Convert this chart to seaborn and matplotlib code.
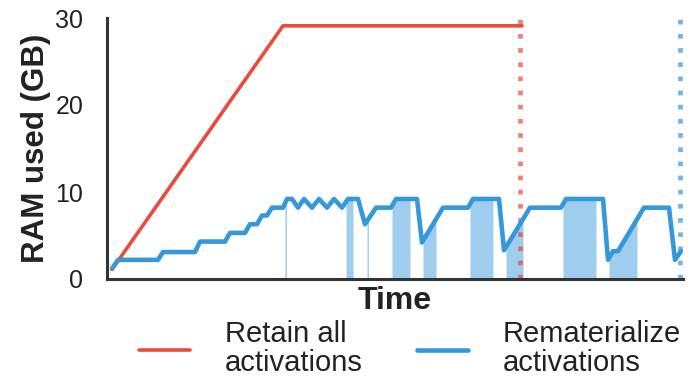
import numpy as np
import matplotlib
matplotlib.use("Agg")
import matplotlib.pyplot as plt
import seaborn as sns
import pandas as pd

# ---- data (time in arbitrary steps, RAM in GB) ----
retain_t = [5, 176, 415]
retain_ram = [1.1, 29.1, 29.1]

remat_t = [5, 11, 51, 56, 88, 93, 118, 123, 138, 143, 150, 155, 160, 165, 176, 180,
           185, 191, 197, 205, 212, 220, 227, 235, 241, 251, 258, 269, 284, 289, 310,
           315, 336, 361, 366, 392, 397, 423, 454, 459, 496, 501, 506, 511, 537, 562,
           568, 574]
remat_ram = [1.2, 2.2, 2.2, 3.1, 3.1, 4.3, 4.3, 5.3, 5.3, 6.3, 6.3, 7.3, 7.3, 8.2, 8.2, 9.2,
             9.2, 8.2, 9.2, 8.2, 9.2, 8.2, 9.2, 8.2, 9.2, 9.2, 6.3, 8.2, 8.2, 9.2, 9.2,
             4.2, 8.2, 8.2, 9.2, 9.2, 3.3, 8.2, 8.2, 9.2, 9.2, 2.2, 3.2, 3.2, 8.2, 8.2,
             2.2, 3.2]

# recomputation windows (start, end)
shade_start = [178, 239, 260, 285, 316, 363, 399, 456, 502]
shade_end = [179.5, 246, 261.5, 303, 329, 386, 416, 489, 530]

retain_end = 413
remat_end = 573

labels = ["Retain all\nactivations", "Rematerialize\nactivations"]
RED = "#e74c3c"
BLUE = "#3498db"

sns.set_theme(style="white")
plt.rcParams["font.family"] = ["Liberation Sans", "DejaVu Sans"]

fig = plt.figure(figsize=(6.91, 3.81), dpi=100)
ax = fig.add_axes([107/691, 1 - 279/381, 576/691, 261/381])

df_r = pd.DataFrame({"t": retain_t, "ram": retain_ram})
df_b = pd.DataFrame({"t": remat_t, "ram": remat_ram})

for a, b in zip(shade_start, shade_end):
    xs = np.linspace(a, b, 60)
    ys = np.interp(xs, remat_t, remat_ram)
    ax.fill_between(xs, 0, ys, color="#9fcdee", linewidth=0, zorder=1)

sns.lineplot(data=df_r, x="t", y="ram", ax=ax, color=RED, linewidth=2.6,
             label=labels[0], zorder=3, sort=False)
sns.lineplot(data=df_b, x="t", y="ram", ax=ax, color=BLUE, linewidth=3.3,
             label=labels[1], zorder=3, sort=False)

ax.axvline(retain_end, color=RED, alpha=0.7, linewidth=3.4, linestyle=(0, (1, 2.0)), zorder=2)
ax.axvline(remat_end, color=BLUE, alpha=0.7, linewidth=3.4, linestyle=(0, (1, 2.0)), zorder=2)

ax.set_xlim(0, 576)
ax.set_ylim(0, 30)
ax.set_yticks([0, 10, 20, 30])
ax.set_xticks([])
ax.tick_params(axis="y", labelsize=18, pad=17, length=0, colors="#222222")
ax.set_ylabel("RAM used (GB)", fontsize=22.5, fontweight="bold", color="#222222", labelpad=3)
ax.set_xlabel("Time", fontsize=23, fontweight="bold", color="#222222", labelpad=5)

for s in ["top", "right"]:
    ax.spines[s].set_visible(False)
for s in ["left", "bottom"]:
    ax.spines[s].set_color("#333333")
    ax.spines[s].set_linewidth(2.2)

leg = ax.legend(loc="upper center", bbox_to_anchor=(0.526, -0.158), ncol=2, frameon=False,
                fontsize=21, handlelength=1.75, columnspacing=1.85, handletextpad=1.2,
                labelspacing=0.1, labelcolor="#222222", borderaxespad=0, borderpad=0)
for t in leg.get_texts():
    t.set_linespacing(1.05)

fig.savefig("out.png", dpi=100)
